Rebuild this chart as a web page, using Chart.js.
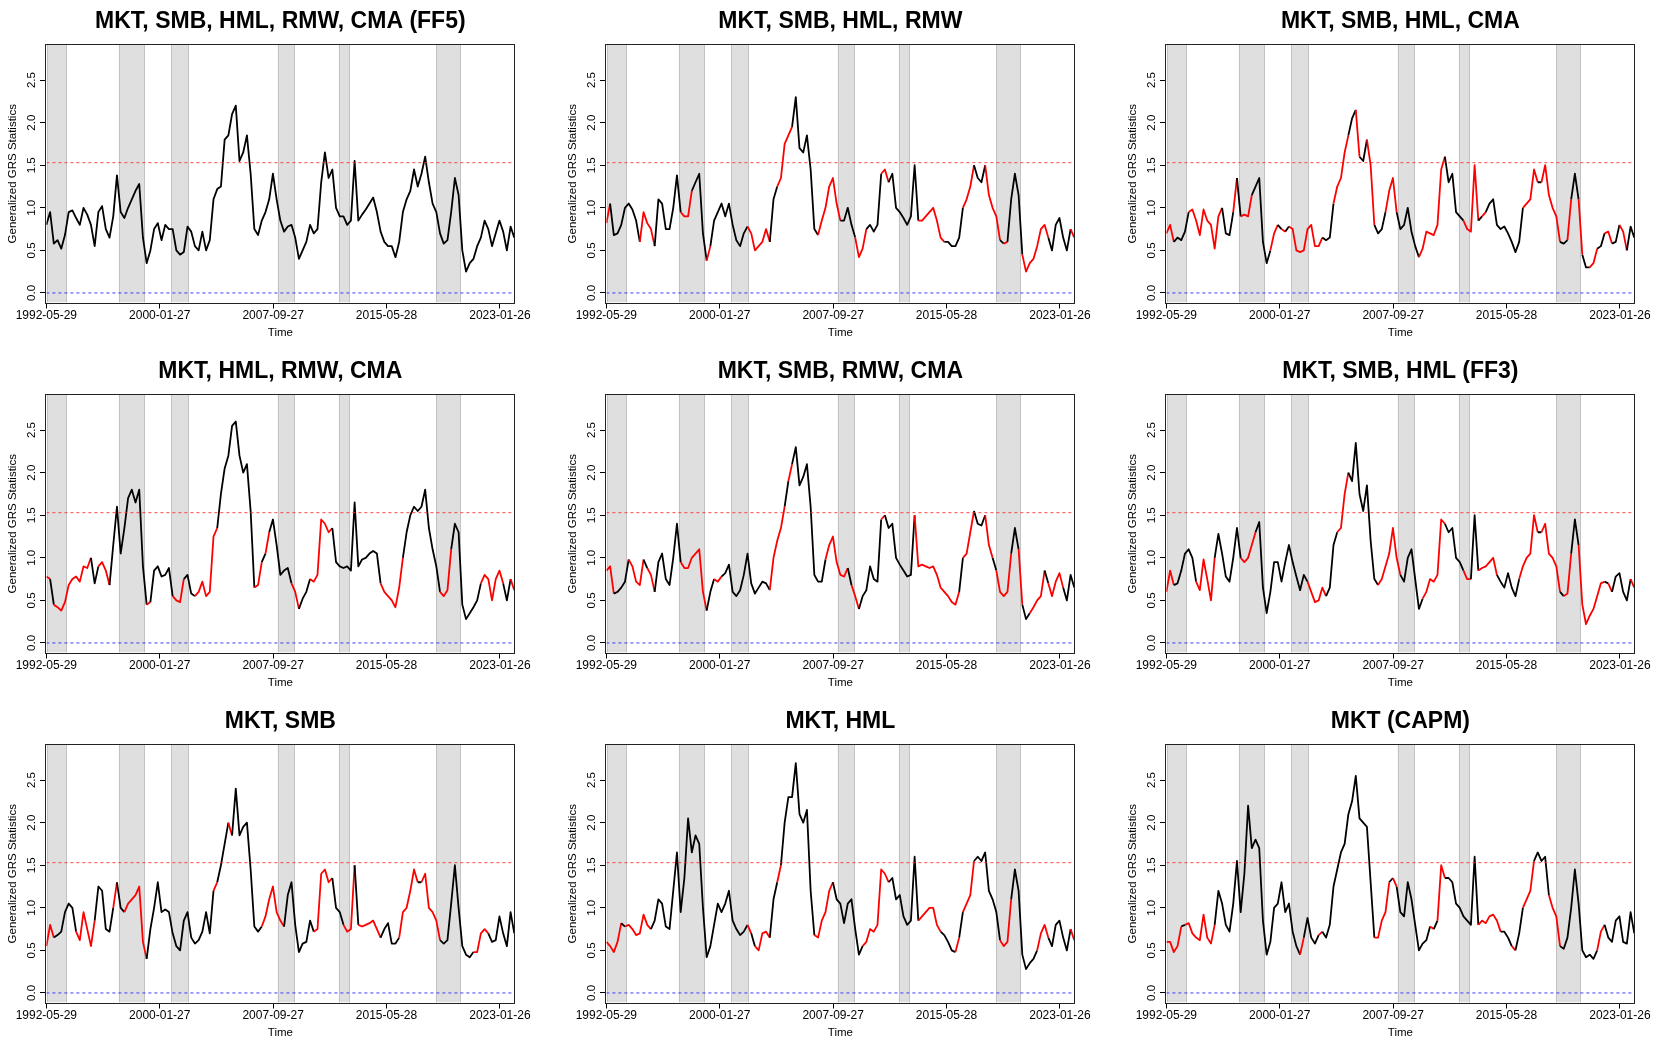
<!DOCTYPE html>
<html><head><meta charset="utf-8">
<script src="https://cdn.jsdelivr.net/npm/chart.js@4.4.1/dist/chart.umd.min.js"></script>
<style>
html,body{margin:0;padding:0;background:#fff;overflow:hidden;}
#wrap{position:relative;width:1679px;height:1049px;}
.p{position:absolute;}
</style></head><body><div id="wrap"></div>
<script>
// ---- data ----
const panelTitles = ["MKT, SMB, HML, RMW, CMA (FF5)", "MKT, SMB, HML, RMW", "MKT, SMB, HML, CMA",
  "MKT, HML, RMW, CMA", "MKT, SMB, RMW, CMA", "MKT, SMB, HML (FF3)",
  "MKT, SMB", "MKT, HML", "MKT (CAPM)"];
const tickDates = ["1992-05-29", "2000-01-27", "2007-09-27", "2015-05-28", "2023-01-26"];
const yTicks = [0, 0.5, 1, 1.5, 2, 2.5];
const bandStart = [1992.48, 1997.31, 2000.86, 2008.05, 2012.18, 2018.77];
const bandEnd   = [1993.79, 1999.05, 2002.02, 2009.19, 2012.93, 2020.41];
const critValue = 1.53;
const T0 = 1992.41, T1 = 2024.04;
const nPts = 127;
const times = Array.from({length: nPts}, (_, i) => T0 + i * (T1 - T0) / (nPts - 1));

const v1 = [0.8,0.95,0.58,0.62,0.52,0.68,0.95,0.97,0.88,0.8,
1.0,0.92,0.8,0.55,0.95,1.02,0.75,0.65,0.9,1.38,
0.95,0.88,1.0,1.1,1.2,1.28,0.65,0.35,0.5,0.75,
0.82,0.62,0.8,0.75,0.75,0.5,0.45,0.48,0.78,0.72,
0.55,0.5,0.72,0.5,0.62,1.1,1.22,1.25,1.8,1.85,
2.1,2.2,1.55,1.65,1.85,1.4,0.75,0.68,0.85,0.95,
1.1,1.4,1.1,0.85,0.72,0.78,0.8,0.65,0.4,0.5,
0.6,0.8,0.7,0.75,1.3,1.65,1.35,1.45,1.0,0.9,
0.9,0.8,0.85,1.55,0.85,0.92,0.98,1.05,1.12,0.95,
0.72,0.6,0.55,0.55,0.42,0.6,0.95,1.1,1.2,1.45,
1.25,1.4,1.6,1.3,1.05,0.95,0.7,0.58,0.62,0.95,
1.35,1.15,0.5,0.25,0.35,0.4,0.55,0.65,0.85,0.75,
0.55,0.7,0.85,0.72,0.5,0.78,0.65];
const c1 = "k".repeat(127);

const v2 = [0.82,1.05,0.68,0.7,0.8,1.0,1.05,0.98,0.85,0.6,
0.95,0.82,0.75,0.55,1.1,1.05,0.75,0.75,1.0,1.38,
0.95,0.9,0.9,1.2,1.3,1.4,0.7,0.38,0.55,0.85,
0.95,1.05,0.9,1.05,0.8,0.62,0.55,0.7,0.78,0.7,
0.5,0.55,0.6,0.75,0.6,1.1,1.25,1.35,1.75,1.85,
1.95,2.3,1.7,1.65,1.85,1.45,0.75,0.68,0.85,1.0,
1.25,1.35,1.05,0.85,0.85,1.0,0.8,0.65,0.42,0.52,
0.75,0.8,0.72,0.8,1.4,1.45,1.3,1.4,1.0,0.95,
0.88,0.8,0.9,1.5,0.85,0.85,0.9,0.95,1.0,0.85,
0.65,0.6,0.6,0.55,0.55,0.65,1.0,1.1,1.25,1.5,
1.35,1.3,1.5,1.15,1.0,0.9,0.62,0.58,0.6,1.1,
1.4,1.15,0.45,0.25,0.35,0.4,0.55,0.75,0.8,0.65,
0.5,0.8,0.88,0.65,0.5,0.75,0.65];
const c2 = "rkkkkkkkkr"+"rrrkkkkkkk"+"rrrkkkkrkk"+"kkkkkkkkrr"+"rrrrkkrrrr"+"kkkkkkkrrr"+"rrrkkkkrrr"+"kkkkrrkkkk"+"kkkkrrrrrr"+"rkkkkkrrrk"+"kkrrrrkrkk"+"kkrrrrrrrk"+"kkkkkrr";

const v3 = [0.7,0.8,0.6,0.65,0.62,0.72,0.95,0.98,0.85,0.68,
0.98,0.85,0.8,0.52,0.9,1.0,0.7,0.68,0.95,1.35,
0.9,0.92,0.9,1.15,1.25,1.35,0.6,0.35,0.5,0.7,
0.8,0.75,0.72,0.78,0.75,0.5,0.48,0.5,0.75,0.8,
0.55,0.55,0.65,0.62,0.65,1.05,1.25,1.35,1.65,1.85,
2.05,2.15,1.6,1.55,1.8,1.5,0.8,0.7,0.75,0.95,
1.2,1.35,0.95,0.75,0.8,1.0,0.72,0.55,0.42,0.52,
0.72,0.7,0.68,0.8,1.45,1.6,1.3,1.4,0.95,0.9,
0.85,0.75,0.72,1.5,0.85,0.9,0.95,1.05,1.1,0.8,
0.75,0.78,0.7,0.6,0.48,0.6,1.0,1.05,1.1,1.45,
1.3,1.3,1.5,1.15,1.0,0.9,0.6,0.58,0.62,1.1,
1.4,1.1,0.45,0.3,0.3,0.35,0.52,0.55,0.7,0.72,
0.58,0.6,0.8,0.72,0.5,0.78,0.65];
const c3 = "rrkkkkrrrr"+"rrrrrkkkrk"+"rrrkkkkkrr"+"krkrrrrrrr"+"rrkkkrrrrk"+"krkkrrkkkr"+"rrkkkkkkrr"+"rrrrrkkkkk"+"rrrrkrkkkk"+"kkkkkkrrrr"+"krrrrrkkrk"+"krkkrrkkrr"+"kkrrkkr";

const v4 = [0.78,0.75,0.45,0.42,0.38,0.48,0.68,0.75,0.78,0.72,
0.9,0.88,1.0,0.7,0.9,0.95,0.85,0.68,1.15,1.6,
1.05,1.35,1.7,1.8,1.65,1.8,0.9,0.45,0.48,0.85,
0.9,0.78,0.8,0.88,0.55,0.5,0.48,0.75,0.8,0.58,
0.55,0.6,0.72,0.55,0.6,1.25,1.35,1.75,2.05,2.2,
2.55,2.6,2.2,2.0,2.1,1.55,0.65,0.68,0.95,1.05,
1.3,1.45,1.15,0.8,0.85,0.88,0.7,0.6,0.4,0.52,
0.6,0.75,0.72,0.8,1.45,1.4,1.3,1.35,0.95,0.9,
0.88,0.9,0.85,1.65,0.9,0.98,1.0,1.05,1.08,1.05,
0.7,0.6,0.55,0.5,0.42,0.65,1.0,1.3,1.5,1.6,
1.55,1.6,1.8,1.35,1.1,0.9,0.6,0.55,0.62,1.1,
1.4,1.3,0.45,0.28,0.35,0.42,0.5,0.7,0.8,0.75,
0.5,0.75,0.85,0.7,0.5,0.75,0.62];
const c4 = "rkrrrrrrrr"+"rrkkrrrkkk"+"kkkkkkkrkk"+"kkkkrrrkkk"+"rrrrrrkkkk"+"kkkkkkrrkr"+"kkkkkkrrkk"+"krrrrrrkkk"+"kkkkkkkkkk"+"rrrrrrkkkk"+"kkkkkkrrrk"+"kkkkkkkrrr"+"rrrkkrr";

const v5 = [0.85,0.9,0.58,0.6,0.65,0.72,0.98,0.9,0.72,0.68,
0.98,0.88,0.8,0.6,0.95,1.05,0.75,0.68,1.0,1.4,
0.95,0.88,0.88,1.0,1.05,1.1,0.6,0.38,0.6,0.75,
0.72,0.78,0.82,0.92,0.6,0.55,0.62,0.8,1.05,0.7,
0.58,0.65,0.72,0.7,0.62,1.0,1.2,1.35,1.6,1.9,
2.1,2.3,1.85,1.95,2.1,1.6,0.8,0.72,0.72,0.98,
1.15,1.25,0.95,0.8,0.78,0.88,0.68,0.55,0.4,0.55,
0.62,0.9,0.75,0.72,1.45,1.5,1.35,1.4,1.0,0.92,
0.85,0.78,0.8,1.5,0.9,0.92,0.9,0.88,0.9,0.8,
0.65,0.6,0.55,0.48,0.45,0.6,1.0,1.05,1.3,1.55,
1.4,1.38,1.5,1.15,1.0,0.85,0.6,0.55,0.6,1.05,
1.35,1.1,0.45,0.28,0.35,0.42,0.5,0.55,0.85,0.7,
0.55,0.72,0.82,0.65,0.5,0.8,0.65];
const c5 = "rrkkkkrrrr"+"krrkkkkkkk"+"rrrrrrrkkr"+"rkkkkkkkkk"+"kkkkrrrrkr"+"kkkkkkkkkr"+"rrrrrkrrkk"+"kkkkrkkkkk"+"kkkrrrrrrr"+"rrrrrkrrrk"+"kkrrkrrrrk"+"krkkrrrrkr"+"rrrkkkk";

const v6 = [0.6,0.85,0.68,0.7,0.85,1.05,1.1,1.0,0.72,0.62,
0.98,0.75,0.5,1.0,1.28,1.05,0.78,0.72,1.0,1.35,
1.0,0.95,1.0,1.15,1.3,1.42,0.65,0.35,0.6,0.95,
0.95,0.72,0.95,1.15,0.95,0.78,0.62,0.8,0.72,0.6,
0.48,0.5,0.65,0.55,0.65,1.15,1.3,1.35,1.75,2.0,
1.9,2.35,1.75,1.55,1.85,1.2,0.75,0.68,0.75,0.9,
1.05,1.35,1.0,0.8,0.72,1.0,1.1,0.75,0.4,0.52,
0.6,0.75,0.72,0.8,1.45,1.4,1.3,1.35,1.0,0.95,
0.85,0.75,0.75,1.5,0.85,0.88,0.9,0.95,1.0,0.8,
0.72,0.65,0.82,0.65,0.55,0.75,0.9,1.0,1.05,1.5,
1.3,1.3,1.4,1.05,1.0,0.9,0.6,0.55,0.58,1.05,
1.45,1.15,0.45,0.22,0.32,0.4,0.55,0.7,0.72,0.7,
0.6,0.78,0.82,0.6,0.5,0.75,0.65];
const c6 = "rrkkkkkkrr"+"rrrkkkkkkk"+"rrrrkkkkkk"+"kkkkkkkkrr"+"rrrkkkrrrk"+"kkkkkkkrrr"+"rrrkkkkkkr"+"rrrrrkkkkk"+"rrkkrrrrrk"+"kkkkkrrrrr"+"krrrrrkrrk"+"krrrrrrrkr"+"kkkkkrr";

const v7 = [0.55,0.8,0.65,0.68,0.72,0.95,1.05,1.0,0.72,0.62,
0.95,0.75,0.55,0.85,1.25,1.2,0.75,0.72,1.0,1.3,
1.0,0.95,1.05,1.1,1.15,1.25,0.6,0.4,0.75,1.0,
1.3,0.95,0.98,0.95,0.7,0.55,0.5,0.85,0.95,0.65,
0.58,0.62,0.72,0.95,0.7,1.2,1.3,1.5,1.75,2.0,
1.85,2.4,1.85,1.95,2.0,1.45,0.78,0.72,0.78,0.9,
1.1,1.25,0.95,0.85,0.78,1.15,1.3,0.8,0.48,0.58,
0.6,0.85,0.72,0.75,1.4,1.45,1.3,1.35,1.0,0.95,
0.8,0.72,0.75,1.5,0.8,0.78,0.8,0.82,0.85,0.75,
0.65,0.75,0.82,0.58,0.58,0.65,0.95,1.0,1.2,1.45,
1.3,1.3,1.4,1.0,0.95,0.85,0.62,0.58,0.62,1.05,
1.5,1.0,0.55,0.45,0.42,0.48,0.48,0.7,0.75,0.7,
0.6,0.62,0.9,0.7,0.55,0.95,0.7];
const c7 = "rrkkkkkkrr"+"rrrkkkkkrk"+"krrrrrrkkk"+"kkkkkkkkkk"+"kkkkkrkkkr"+"kkkkkkkkrr"+"rrrrkkkkkk"+"kkrrrrrkkk"+"rrrkrrrrrr"+"kkkkkrrrrr"+"krrrrrkkkk"+"kkkkkrrrrk"+"kkkkkkk";

const v8 = [0.6,0.55,0.48,0.6,0.82,0.78,0.8,0.75,0.68,0.7,
0.92,0.8,0.75,0.85,1.1,1.05,0.78,0.75,1.2,1.65,
0.95,1.35,2.05,1.65,1.85,1.75,1.0,0.42,0.55,0.8,
1.05,0.95,1.05,1.2,0.85,0.75,0.68,0.72,0.8,0.7,
0.55,0.5,0.7,0.72,0.65,1.1,1.3,1.5,2.0,2.3,
2.3,2.7,2.1,2.0,2.15,1.2,0.68,0.65,0.85,0.95,
1.2,1.3,1.1,1.05,0.82,1.05,1.1,0.75,0.45,0.55,
0.6,0.75,0.72,0.8,1.45,1.4,1.3,1.35,1.1,1.15,
0.9,0.8,0.85,1.6,0.85,0.9,0.95,1.0,1.0,0.8,
0.72,0.68,0.6,0.5,0.48,0.65,0.95,1.05,1.15,1.55,
1.6,1.55,1.65,1.2,1.1,0.95,0.62,0.55,0.6,1.1,
1.45,1.2,0.45,0.28,0.35,0.4,0.5,0.7,0.8,0.65,
0.55,0.8,0.85,0.65,0.5,0.75,0.62];
const c8 = "rrrrkrrrrr"+"rrkkkkkkkk"+"kkkkkkkkkk"+"kkkkkkkkrk"+"rrrrkkrkkk"+"kkkkkkrrrr"+"rkkkkkkkkr"+"rrrrrrkkkk"+"kkkkrrrrrr"+"kkkkrkrrrk"+"kkkkkkrrrk"+"kkkkkkrrrk"+"kkkkkrr";

const v9 = [0.6,0.6,0.48,0.55,0.78,0.8,0.82,0.7,0.65,0.62,
0.92,0.65,0.58,0.8,1.2,1.05,0.8,0.72,1.05,1.55,
0.95,1.4,2.2,1.7,1.8,1.7,0.85,0.45,0.6,1.0,
1.05,1.3,0.95,1.05,0.72,0.55,0.45,0.65,0.88,0.65,
0.58,0.68,0.72,0.65,0.8,1.25,1.45,1.65,1.75,2.1,
2.25,2.55,2.05,2.0,1.95,1.3,0.65,0.65,0.85,0.95,
1.3,1.35,1.25,0.95,0.9,1.3,1.1,0.8,0.5,0.58,
0.62,0.78,0.75,0.85,1.5,1.35,1.35,1.3,1.05,1.0,
0.9,0.85,0.8,1.6,0.8,0.85,0.82,0.9,0.92,0.85,
0.72,0.72,0.65,0.55,0.5,0.7,1.0,1.1,1.2,1.55,
1.65,1.55,1.6,1.15,1.0,0.9,0.55,0.52,0.65,1.0,
1.45,1.05,0.5,0.42,0.45,0.4,0.5,0.72,0.8,0.65,
0.6,0.85,0.9,0.6,0.58,0.95,0.7];
const c9 = "rrrrkrrrrr"+"rrrkkkkkkk"+"kkkkkkkkkk"+"kkkkkkrkkk"+"krkkkkkkkk"+"kkkkkkrrrr"+"krkkkkkkkk"+"krkrrkkkkk"+"kkkkrrrrrr"+"kkkrkkrrrk"+"kkkrrrkkkk"+"kkkkkkrrkk"+"kkkkkkk";

const seriesValues = [v1, v2, v3, v4, v5, v6, v7, v8, v9];
const seriesColors = [c1, c2, c3, c4, c5, c6, c7, c8, c9];

// ---- rendering ----
function decYear(s) {
  const d = Date.parse(s + "T00:00:00Z");
  const y = Number(s.slice(0, 4));
  const a = Date.UTC(y, 0, 1), b = Date.UTC(y + 1, 0, 1);
  return y + (d - a) / (b - a);
}
const tickPos = tickDates.map(decYear);

Chart.defaults.font.family = "'Liberation Sans', Arial, Helvetica, sans-serif";
Chart.defaults.color = "#000";

const bandPlugin = {
  id: "bands",
  beforeDatasetsDraw(chart) {
    const {ctx, chartArea: a, scales: {x}} = chart;
    ctx.save();
    ctx.beginPath(); ctx.rect(a.left, a.top, a.right - a.left, a.bottom - a.top); ctx.clip();
    for (let k = 0; k < bandStart.length; k++) {
      const x0 = x.getPixelForValue(bandStart[k]), x1 = x.getPixelForValue(bandEnd[k]);
      ctx.fillStyle = "#dfdfdf";
      ctx.fillRect(x0, a.top, x1 - x0, a.bottom - a.top);
      ctx.strokeStyle = "#c2c2c2"; ctx.lineWidth = 1;
      ctx.beginPath();
      ctx.moveTo(Math.round(x0) + 0.5, a.top); ctx.lineTo(Math.round(x0) + 0.5, a.bottom);
      ctx.moveTo(Math.round(x1) - 0.5, a.top); ctx.lineTo(Math.round(x1) - 0.5, a.bottom);
      ctx.stroke();
    }
    ctx.restore();
  }
};
const boxPlugin = {
  id: "box",
  afterDatasetsDraw(chart) {
    const {ctx, chartArea: a} = chart;
    ctx.save();
    ctx.strokeStyle = "#222"; ctx.lineWidth = 1;
    const l = Math.round(a.left) - 0.5, t = Math.round(a.top) - 0.5;
    const r = Math.round(a.right) + 0.5, b = Math.round(a.bottom) + 0.5;
    ctx.strokeRect(l, t, r - l, b - t);
    ctx.restore();
  }
};

const colX = [0, 560, 1120], rowY = [0, 350, 700];
const W = 560, H = 350;
const wrap = document.getElementById("wrap");

for (let p = 0; p < 9; p++) {
  const div = document.createElement("div");
  div.className = "p";
  div.style.left = colX[p % 3] + "px";
  div.style.top = rowY[Math.floor(p / 3)] + "px";
  div.style.width = W + "px"; div.style.height = H + "px";
  const cv = document.createElement("canvas");
  cv.width = W; cv.height = H;
  cv.style.width = W + "px"; cv.style.height = H + "px";
  div.appendChild(cv); wrap.appendChild(div);

  const vals = seriesValues[p], flags = seriesColors[p];
  const pts = times.map((t, i) => ({x: t, y: vals[i]}));

  new Chart(cv.getContext("2d"), {
    type: "line",
    data: {
      datasets: [
        {
          data: pts, order: 2, borderWidth: 1.8, pointRadius: 0, tension: 0,
          borderColor: "#000", borderJoinStyle: "round",
          segment: {borderColor: ctx => flags[ctx.p0DataIndex] === "r" ? "#ff0000" : "#000000"}
        },
        {
          data: [{x: T0, y: critValue}, {x: T1, y: critValue}], order: 1,
          borderColor: "rgba(255,40,40,0.85)", borderWidth: 1, borderDash: [3, 3], pointRadius: 0
        },
        {
          data: [{x: T0, y: 0}, {x: T1, y: 0}], order: 1,
          borderColor: "rgba(40,40,255,0.9)", borderWidth: 1, borderDash: [3, 3], pointRadius: 0
        }
      ]
    },
    options: {
      responsive: false, animation: false, devicePixelRatio: 1,
      layout: {padding: {left: 0, right: 45.7, top: 0, bottom: 0}},
      plugins: {
        legend: {display: false}, tooltip: {enabled: false},
        title: {
          display: true, text: panelTitles[p], fullSize: false, color: "#000",
          font: {size: 23, weight: "bold", lineHeight: 1.2},
          padding: {top: 8.2, bottom: 9.2}
        }
      },
      scales: {
        x: {
          type: "linear", min: T0, max: T1,
          afterBuildTicks: s => { s.ticks = tickPos.map(v => ({value: v})); },
          afterFit: s => { s.height = 47.5; s.paddingLeft = 0; s.paddingRight = 0; },
          ticks: {autoSkip: false, maxRotation: 0, minRotation: 0, padding: 0,
                  font: {size: 12}, color: "#000", callback: (v, i) => tickDates[i]},
          grid: {drawOnChartArea: false, drawTicks: true, tickLength: 6, color: "#000", lineWidth: 1},
          border: {display: false},
          title: {display: true, text: "Time", font: {size: 11.5}, color: "#000", padding: {top: 0, bottom: 10}}
        },
        y: {
          type: "linear", min: -0.112, max: 2.912,
          afterBuildTicks: s => { s.ticks = yTicks.map(v => ({value: v})); },
          afterFit: s => { s.width = 46.4; s.paddingTop = 0; s.paddingBottom = 0; },
          ticks: {autoSkip: false, minRotation: 90, maxRotation: 90, crossAlign: "center", padding: 0,
                  font: {size: 11.5}, color: "#000", callback: v => Number(v).toFixed(1)},
          grid: {drawOnChartArea: false, drawTicks: true, tickLength: 6.4, color: "#000", lineWidth: 1},
          border: {display: false},
          title: {display: true, text: "Generalized GRS Statistics", font: {size: 11.5}, color: "#000", padding: {top: 5.6, bottom: 0}}
        }
      }
    },
    plugins: [bandPlugin, boxPlugin]
  });
}
</script>
</body></html>
